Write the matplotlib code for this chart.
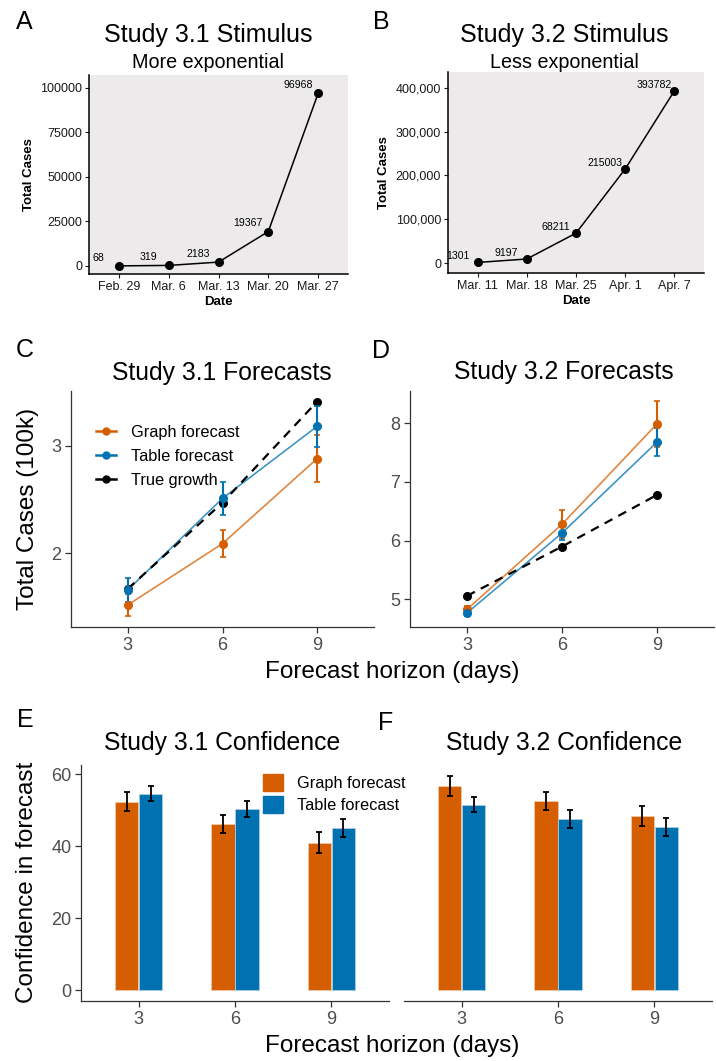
import matplotlib
matplotlib.use("Agg")
import matplotlib.pyplot as plt
from matplotlib.lines import Line2D
from matplotlib.patches import Patch
import numpy as np

plt.rcParams['font.family'] = ['Liberation Sans', 'DejaVu Sans']

# stimulus data
dates_31 = ['Feb. 29', 'Mar. 6', 'Mar. 13', 'Mar. 20', 'Mar. 27']
cases_31 = [68, 319, 2183, 19367, 96968]
dates_32 = ['Mar. 11', 'Mar. 18', 'Mar. 25', 'Apr. 1', 'Apr. 7']
cases_32 = [1301, 9197, 68211, 215003, 393782]

# forecasts (100k)
horizons = ['3', '6', '9']
graph_31 = [1.52, 2.09, 2.88]
graph_31_se = [0.10, 0.125, 0.22]
table_31 = [1.66, 2.51, 3.18]
table_31_se = [0.11, 0.15, 0.19]
true_31 = [1.67, 2.47, 3.41]
graph_32 = [4.83, 6.28, 7.99]
graph_32_se = [0.05, 0.24, 0.39]
table_32 = [4.77, 6.13, 7.68]
table_32_se = [0.05, 0.12, 0.245]
true_32 = [5.06, 5.90, 6.78]

# confidence
conf_graph_31 = [52.4, 46.2, 41.0]
conf_graph_31_se = [2.6, 2.6, 2.9]
conf_table_31 = [54.6, 50.4, 45.1]
conf_table_31_se = [2.1, 2.2, 2.4]
conf_graph_32 = [56.8, 52.6, 48.5]
conf_graph_32_se = [2.7, 2.6, 2.8]
conf_table_32 = [51.6, 47.6, 45.3]
conf_table_32_se = [2.2, 2.4, 2.5]

ORANGE = '#D55E00'
BLUE = '#0072B2'
W, H = 716, 1061

fig = plt.figure(figsize=(W / 100, H / 100), dpi=100)


def rect(l, t, r, b):
    return [l / W, 1 - b / H, (r - l) / W, (b - t) / H]


def ftext(x, y, s, **kw):
    fig.text(x / W, 1 - y / H, s, ha=kw.pop('ha', 'center'), va=kw.pop('va', 'center'), **kw)


def stim_panel(r, dates, cases, ylim, yticks, ylabels, nudge):
    ax = fig.add_axes(rect(*r))
    ax.set_facecolor('#ECEAEB')
    x = np.arange(len(dates))
    ax.plot(x, cases, color='black', lw=1.1, marker='o', ms=5.5)
    for xi, c in zip(x, cases):
        ax.annotate(str(c), (xi, c), xytext=(-14.5, nudge), textcoords='offset points',
                    ha='center', va='center', fontsize=7.6, annotation_clip=False,
                    clip_on=True)
    ax.set_xlim(-0.6, 4.6)
    ax.set_ylim(*ylim)
    ax.set_xticks(x)
    ax.set_xticklabels(dates)
    ax.set_yticks(yticks)
    ax.set_yticklabels(ylabels)
    for s in ['top', 'right']:
        ax.spines[s].set_visible(False)
    for s in ['left', 'bottom']:
        ax.spines[s].set_linewidth(1.1)
    ax.tick_params(labelsize=9, length=3, width=0.8, pad=2, colors='#1a1a1a')
    ax.set_ylabel('Total Cases', fontsize=9.5, fontweight='bold', labelpad=4)
    ax.set_xlabel('Date', fontsize=9.5, fontweight='bold', labelpad=2)
    return ax


stim_panel((89, 75, 348, 274), dates_31, cases_31, (-4500, 107300),
           [0, 25000, 50000, 75000, 100000], ['0', '25000', '50000', '75000', '100000'], 6)
stim_panel((448, 72, 704, 273), dates_32, cases_32, (-22800, 436500),
           [0, 100000, 200000, 300000, 400000], ['0', '100,000', '200,000', '300,000', '400,000'], 4.3)

ftext(24, 22, 'A', fontsize=18)
ftext(381, 22, 'B', fontsize=18)
ftext(208, 35, 'Study 3.1 Stimulus', fontsize=18)
ftext(208, 62, 'More exponential', fontsize=14.2)
ftext(564, 35, 'Study 3.2 Stimulus', fontsize=18)
ftext(564, 62, 'Less exponential', fontsize=14.2)


def classic(ax):
    for s in ['top', 'right']:
        ax.spines[s].set_visible(False)
    for s in ['left', 'bottom']:
        ax.spines[s].set_color('#333333')
        ax.spines[s].set_linewidth(0.9)
    ax.tick_params(labelsize=13, length=4, width=0.9, color='#333333', labelcolor='#4D4D4D', pad=3)


def forecast_panel(r, graph, gse, table, tse, true, ylim, yticks):
    ax = fig.add_axes(rect(*r))
    x = np.arange(len(horizons))
    ax.plot(x, true, color='black', lw=1.6, ls=(0, (4, 3)), marker='o', ms=5.5, zorder=4)
    for m, e, c in [(graph, gse, ORANGE), (table, tse, BLUE)]:
        ax.plot(x, m, color=c, lw=1.2, alpha=0.75, zorder=3)
        ax.errorbar(x, m, yerr=e, fmt='o', color=c, ms=5.5, elinewidth=1.5,
                    capsize=2.5, capthick=1.2, zorder=5)
    ax.set_xlim(-0.6, 2.6)
    ax.set_ylim(*ylim)
    ax.set_xticks(x)
    ax.set_xticklabels(horizons)
    ax.set_yticks(yticks)
    classic(ax)
    return ax


axC = forecast_panel((71, 391, 374, 627), graph_31, graph_31_se, table_31, table_31_se,
                     true_31, (1.315, 3.508), [2, 3])
forecast_panel((410, 391, 714, 627), graph_32, graph_32_se, table_32, table_32_se,
               true_32, (4.53, 8.55), [5, 6, 7, 8])

handles = [Line2D([], [], color=c, lw=1.8, marker='o', ms=5) for c in (ORANGE, BLUE, 'black')]
fig.legend(handles, ['Graph forecast', 'Table forecast', 'True growth'],
           loc='upper left', bbox_to_anchor=(96 / W, 1 - 425 / H), frameon=False,
           fontsize=11.8, handlelength=1.2, handletextpad=0.95, labelspacing=0.55,
           borderpad=0, borderaxespad=0)

ftext(25, 350, 'C', fontsize=18)
ftext(381, 351, 'D', fontsize=18)
ftext(222, 373, 'Study 3.1 Forecasts', fontsize=17.8)
ftext(564, 372, 'Study 3.2 Forecasts', fontsize=17.8)
ftext(28, 509, 'Total Cases (100k)', fontsize=17.5, rotation=90)
ftext(392, 672, 'Forecast horizon (days)', fontsize=17.5)


def conf_panel(r, graph, gse, table, tse, show_y):
    ax = fig.add_axes(rect(*r))
    x = np.arange(len(horizons))
    w = 0.24
    ax.bar(x - 0.125, graph, w, color=ORANGE, edgecolor='#f3c9a8', lw=0.6)
    ax.bar(x + 0.125, table, w, color=BLUE, edgecolor='#a9cfe6', lw=0.6)
    ax.errorbar(x - 0.125, graph, yerr=gse, fmt='none', ecolor='black', elinewidth=1.3,
                capsize=2.5, capthick=1.3)
    ax.errorbar(x + 0.125, table, yerr=tse, fmt='none', ecolor='black', elinewidth=1.3,
                capsize=2.5, capthick=1.3)
    ax.set_xlim(-0.6, 2.6)
    ax.set_ylim(-3.06, 62.6)
    ax.set_xticks(x)
    ax.set_xticklabels(horizons)
    ax.set_yticks([0, 20, 40, 60])
    classic(ax)
    if not show_y:
        ax.spines['left'].set_visible(False)
        ax.tick_params(axis='y', left=False, labelleft=False)
    return ax


conf_panel((81, 765, 389, 1001), conf_graph_31, conf_graph_31_se, conf_table_31,
           conf_table_31_se, True)
conf_panel((404, 765, 712, 1001), conf_graph_32, conf_graph_32_se, conf_table_32,
           conf_table_32_se, False)

fig.legend([Patch(color=ORANGE), Patch(color=BLUE)], ['Graph forecast', 'Table forecast'],
           loc='upper left', bbox_to_anchor=(263 / W, 1 - 774 / H), frameon=False,
           fontsize=11.8, handlelength=1.2, handleheight=1.2, handletextpad=0.9,
           labelspacing=0.3, borderpad=0, borderaxespad=0)

ftext(25, 720, 'E', fontsize=18)
ftext(386, 723, 'F', fontsize=18)
ftext(222, 743, 'Study 3.1 Confidence', fontsize=17.8)
ftext(564, 743, 'Study 3.2 Confidence', fontsize=17.8)
ftext(27, 882, 'Confidence in forecast', fontsize=17.5, rotation=90)
ftext(392, 1046, 'Forecast horizon (days)', fontsize=17.5)

fig.savefig('out.png', dpi=100)
